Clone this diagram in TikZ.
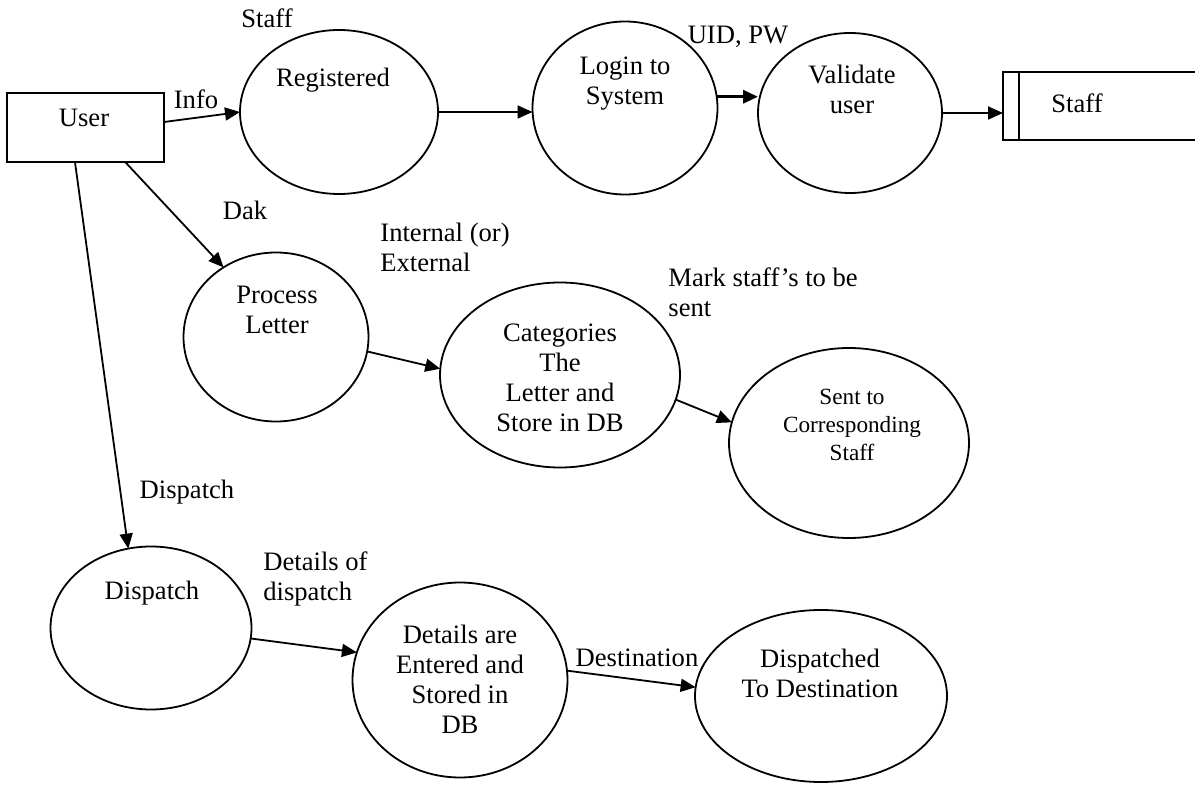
\documentclass[tikz,border=0pt]{standalone}
\usepackage{fontspec}
\setmainfont{Liberation Serif}
\usetikzlibrary{arrows.meta,shapes.geometric,positioning}
\tikzset{
  >={Triangle[length=7.5pt,width=6.5pt]},
  process/.style={ellipse, draw=black, line width=0.9pt, inner sep=0pt, outer sep=0pt},
  entity/.style={rectangle, draw=black, line width=0.9pt, inner sep=0pt, outer sep=0pt,
                 minimum width=78.5pt, minimum height=34.5pt},
  txt/.style={align=center, inner sep=0pt, font=\fontsize{13.3}{15}\selectfont},
  smalltxt/.style={align=center, inner sep=0pt, font=\fontsize{11.6}{14}\selectfont},
  lbl/.style={align=left, inner sep=0pt, font=\fontsize{13.3}{15}\selectfont},
  flow/.style={->, line width=0.9pt},
  boldflow/.style={->, line width=1.6pt}
}

\begin{document}
\begin{tikzpicture}[x=0.5pt,y=-0.5pt]
\useasboundingbox (0,0) rectangle (1195,786);
% external entity
\node[entity] (user) at (85.5,127.5) {};
\node[txt] (user-t) at (84,118) {User};
% processes
\node[process, minimum width=99pt, minimum height=82pt] (reg) at (339,112) {};
\node[txt] (reg-t) at (333,80) {Registered};
\node[process, minimum width=92.5pt, minimum height=86.5pt] (login) at (625,108) {};
\node[txt] (login-t) at (625,84) {Login to\\System};
\node[process, minimum width=92pt, minimum height=80pt] (val) at (850,113) {};
\node[txt] (val-t) at (852,89) {Validate\\user};
\node[process, minimum width=92.5pt, minimum height=84.5pt] (proc) at (276,337) {};
\node[txt] (proc-t) at (277,310) {Process\\Letter};
\node[process, minimum width=120pt, minimum height=92.5pt] (cat) at (560,375) {};
\node[txt] (cat-t) at (560,378) {Categories\\The\\Letter and\\Store in DB};
\node[process, minimum width=120pt, minimum height=95pt] (sent) at (849,443) {};
\node[smalltxt] (sent-t) at (852,425) {Sent to\\Corresponding\\Staff};
\node[process, minimum width=100.5pt, minimum height=81.5pt] (disp) at (151,628) {};
\node[txt] (disp-t) at (152,593) {Dispatch};
\node[process, minimum width=107.5pt, minimum height=97.5pt] (det) at (460,680) {};
\node[txt] (det-t) at (460,679) {Details are\\Entered and\\Stored in\\DB};
\node[process, minimum width=126pt, minimum height=86pt] (dest) at (821,696) {};
\node[txt] (dest-t) at (820,673) {Dispatched\\To Destination};
% data store
\draw[line width=0.9pt] (1195,72) -- (1003,72) -- (1003,140) -- (1195,140);
\draw[line width=0.9pt] (1019,72) -- (1019,140);
\coordinate (store) at (1003,106);
\node[txt] (store-t) at (1077,103) {Staff};
% flows
\draw[flow] (user.4) -- (reg.west);
\draw[flow] (reg.east) -- (reg.east -| login.west);
\draw[boldflow] (login.7) -- (login.7 -| val.west);
\draw[flow] (val.east) -- (val.east -| store);
\draw[flow] (user.-41) -- (proc.127);
\draw[flow] (user.-107) -- (disp.106);
\draw[flow] (proc.-9) -- (cat.177);
\draw[flow] (cat.-12) -- (sent.170);
\draw[flow] (disp.-6) -- (det.165);
\draw[flow] (det.5) -- (dest.176);
% flow labels
\node[txt] (l-staff) at (267,18) {Staff};
\node[txt] (l-info) at (196,99) {Info};
\node[txt] (l-uid) at (738,37) {UID, PW};
\node[txt] (l-dak) at (245,210) {Dak};
\node[lbl, anchor=west] (l-int) at (380,247) {Internal (or)\\External};
\node[lbl, anchor=west] (l-mark) at (668,292) {Mark staff's to be\\sent};
\node[txt] (l-disp) at (187,492) {Dispatch};
\node[lbl, anchor=west] (l-det) at (263,579) {Details of\\dispatch};
\node[txt] (l-dest) at (637,658) {Destination};
\end{tikzpicture}
\end{document}
